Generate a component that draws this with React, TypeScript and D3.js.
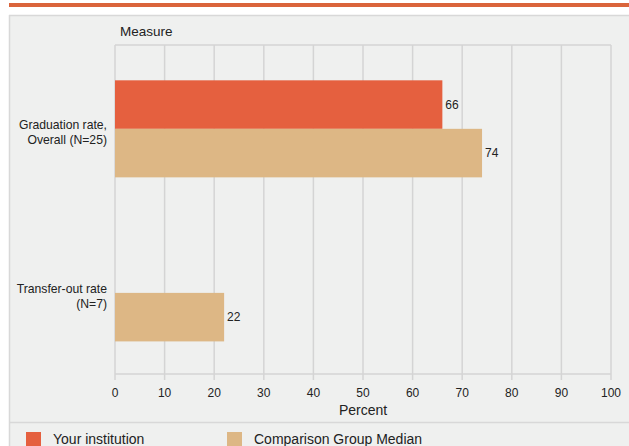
import React from "react";
import * as d3 from "d3";

const categories = ["Graduation rate,|Overall (N=25)", "Transfer-out rate|(N=7)"];
const institutionValues: (number | null)[] = [66, null];
const comparisonValues: (number | null)[] = [74, 22];
const seriesNames = ["Your institution", "Comparison Group Median"];
const xTicks = [0, 10, 20, 30, 40, 50, 60, 70, 80, 90, 100];

const W = 629;
const H = 446;
const C_INST = "#E5603F";
const C_COMP = "#DDB785";
const C_TOP = "#DA643B";
const BG = "#EFF0EF";
const GRID = "#D4D4D4";
const FONT = "'Liberation Sans', Arial, Helvetica, sans-serif";

export default function App() {
  const x = d3.scaleLinear().domain([0, 100]).range([115, 611]);
  const y = d3
    .scaleBand<string>()
    .domain(categories)
    .range([45, 374])
    .paddingInner(0.4085)
    .paddingOuter(0.207)
    .align(0.52);
  const sub = d3
    .scaleBand<string>()
    .domain(seriesNames)
    .range([0, y.bandwidth()]);

  const series = [
    { name: seriesNames[0], values: institutionValues, color: C_INST },
    { name: seriesNames[1], values: comparisonValues, color: C_COMP },
  ];

  return (
    <svg
      width={W}
      height={H}
      style={{ position: "absolute", left: 0, top: 0, fontFamily: FONT }}
    >
      <rect x={0} y={0} width={W} height={H} fill="#fff" />
      <rect x={9} y={3} width={W - 9} height={4} fill={C_TOP} />
      <rect x={9} y={15} width={W - 9} height={H - 15} fill={BG} />
      <line x1={9} x2={W} y1={15.5} y2={15.5} stroke="#D8D8D8" strokeWidth={1.5} />
      <line x1={9.5} x2={9.5} y1={15} y2={H} stroke="#D8D8D8" strokeWidth={1.5} />
      <line x1={9} x2={W} y1={422.5} y2={422.5} stroke="#D8D8D8" strokeWidth={1.5} />

      <text x={120} y={36} fontSize={13.5} fill="#222">Measure</text>

      {/* grid */}
      <line x1={x(0)} x2={x(100)} y1={45} y2={45} stroke={GRID} strokeWidth={1.5} />
      {xTicks.map((t) => (
        <line key={t} x1={x(t)} x2={x(t)} y1={45} y2={380} stroke={GRID} strokeWidth={1.5} />
      ))}
      <line x1={x(0)} x2={x(100)} y1={374} y2={374} stroke={GRID} strokeWidth={1.5} />
      {xTicks.map((t) => (
        <text key={"l" + t} x={x(t)} y={397} fontSize={12} textAnchor="middle" fill="#222">
          {t}
        </text>
      ))}
      <text x={(x(0) + x(100)) / 2} y={415} fontSize={14} textAnchor="middle" fill="#222">
        Percent
      </text>

      {/* bars */}
      {categories.map((c, i) =>
        series.map((s) => {
          const v = s.values[i];
          if (v == null) return null;
          const y0 = (y(c) as number) + (sub(s.name) as number);
          const h = sub.bandwidth();
          return (
            <g key={c + s.name}>
              <rect x={x(0)} y={y0} width={x(v) - x(0)} height={h} fill={s.color} />
              <text x={x(v) + 3} y={y0 + h / 2 + 4} fontSize={12} fill="#222">
                {v}
              </text>
            </g>
          );
        })
      )}

      {/* category labels */}
      {categories.map((c) => {
        const lines = c.split("|");
        const cy = (y(c) as number) + y.bandwidth() / 2 + 3;
        return (
          <text key={c} x={107} fontSize={12.2} textAnchor="end" fill="#222">
            {lines.map((ln, k) => (
              <tspan key={k} x={107} y={cy + (k - (lines.length - 1) / 2) * 15 + 4.5}>
                {ln}
              </tspan>
            ))}
          </text>
        );
      })}

      {/* legend */}
      {series.map((s, i) => {
        const lx = [26, 227][i];
        return (
          <g key={s.name}>
            <rect x={lx} y={432} width={15} height={16} fill={s.color} />
            <text x={lx + 27} y={444} fontSize={14} fill="#222">
              {s.name}
            </text>
          </g>
        );
      })}
    </svg>
  );
}
